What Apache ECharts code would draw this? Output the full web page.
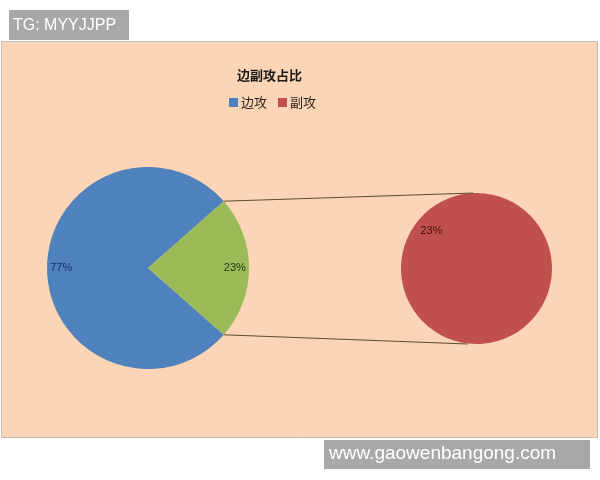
<!DOCTYPE html>
<html>
<head>
<meta charset="utf-8">
<title>边副攻占比</title>
<script src="https://cdn.jsdelivr.net/npm/echarts@6/dist/echarts.min.js"></script>
<style>
    html, body { margin: 0; padding: 0; background: #fff; }
    #chart { width: 600px; height: 480px; }
</style>
</head>
<body>
<div id="chart"></div>
<script>
// 数据
var legendNames = ['边攻', '副攻'];
var mainNames = ['边攻', '其他'];
var mainValues = [77, 23];
var subNames = ['副攻'];
var subValues = [23];

var mainColors = ['#4f81bd', '#9bbb59'];
var subColors = ['#c0504d'];
var labelColors = ['#13305e', '#26380c'];

// 饼图位置
var mainCenter = [148, 268], mainR = 101;
var subCenter = [476.5, 268.5], subR = 75.5;

var total = mainValues[0] + mainValues[1];
var otherAngle = mainValues[1] / total * 360;
var mainStart = 360 - otherAngle / 2;

// 每块扇区的中线角度(顺时针)
function midAngles(values, start) {
    var sum = 0, res = [], acc = start;
    for (var i = 0; i < values.length; i++) sum += values[i];
    for (var j = 0; j < values.length; j++) {
        var a = values[j] / sum * 360;
        res.push(acc - a / 2);
        acc -= a;
    }
    return res;
}
var mainMid = midAngles(mainValues, mainStart);
var subStart = 320;
var subMid = midAngles(subValues, subStart);

// inside 标签默认在半径一半处，往外推
function pushOut(mid, r, frac) {
    var rad = mid * Math.PI / 180;
    var d = (frac - 0.5) * r;
    return { dx: Math.cos(rad) * d, dy: -Math.sin(rad) * d };
}

var mainData = mainValues.map(function (v, i) {
    return {
        name: mainNames[i], value: v,
        itemStyle: { color: mainColors[i] },
        label: { color: labelColors[i] }
    };
});
var subData = subValues.map(function (v, i) {
    return { name: subNames[i], value: v, itemStyle: { color: subColors[i] } };
});

// 连接线
var rad = otherAngle / 2 * Math.PI / 180;
var p1 = [mainCenter[0] + Math.cos(rad) * mainR, mainCenter[1] - Math.sin(rad) * mainR];
var p2 = [mainCenter[0] + Math.cos(rad) * mainR, mainCenter[1] + Math.sin(rad) * mainR];
var q1 = [subCenter[0] - 3, subCenter[1] - subR];
var q2 = [subCenter[0] - 9, subCenter[1] + subR];

var chart = echarts.init(document.getElementById('chart'));
chart.setOption({
    backgroundColor: '#ffffff',
    animation: false,
    color: ['#4f81bd', '#c0504d'],
    title: {
        text: '边副攻占比',
        left: 237,
        top: 69,
        padding: 0,
        textStyle: {
            fontFamily: 'Noto Sans CJK SC',
            fontSize: 13,
            fontWeight: 'bold',
            color: '#1a1a1a'
        }
    },
    legend: {
        data: [
            { name: legendNames[0], itemStyle: { color: mainColors[0] } },
            { name: legendNames[1], itemStyle: { color: subColors[0] } }
        ],
        left: 229,
        top: 96,
        padding: 0,
        icon: 'rect',
        itemWidth: 9,
        itemHeight: 9,
        itemGap: 11,
        selectedMode: false,
        textStyle: {
            fontFamily: 'Noto Sans CJK SC',
            fontSize: 13,
            color: '#2e2620',
            padding: [0, 0, 0, -2]
        }
    },
    graphic: [
        {
            type: 'rect', z: -10,
            shape: { x: 1.5, y: 41.5, width: 596, height: 396 },
            style: { fill: '#fbd5b5', stroke: '#c4bcb4', lineWidth: 1 }
        },
        {
            type: 'line', z: 10,
            shape: { x1: p1[0], y1: p1[1], x2: q1[0], y2: q1[1] },
            style: { stroke: '#5e4d34', lineWidth: 1 }
        },
        {
            type: 'line', z: 10,
            shape: { x1: p2[0], y1: p2[1], x2: q2[0], y2: q2[1] },
            style: { stroke: '#5e4d34', lineWidth: 1 }
        },
        {
            type: 'rect', z: 20,
            shape: { x: 9, y: 10, width: 120, height: 30 },
            style: { fill: '#a8a8a8' }
        },
        {
            type: 'text', z: 21, x: 13, y: 26,
            style: {
                text: 'TG: MYYJJPP', fill: '#fff',
                font: '16px "Liberation Sans", Arial, sans-serif',
                verticalAlign: 'middle'
            }
        },
        {
            type: 'rect', z: 20,
            shape: { x: 324, y: 440, width: 266, height: 29 },
            style: { fill: '#a8a8a8' }
        },
        {
            type: 'text', z: 21, x: 329, y: 454,
            style: {
                text: 'www.gaowenbangong.com', fill: '#fff',
                font: '19px "Liberation Sans", Arial, sans-serif',
                verticalAlign: 'middle'
            }
        }
    ],
    series: [
        {
            name: '边副攻占比',
            type: 'pie',
            center: mainCenter,
            radius: mainR,
            startAngle: mainStart,
            clockwise: true,
            silent: true,
            data: mainData,
            label: {
                position: 'inside',
                formatter: '{d}%',
                fontFamily: 'Liberation Sans',
                fontSize: 11
            },
            labelLayout: function (params) {
                return pushOut(mainMid[params.dataIndex], mainR, 0.83);
            },
            itemStyle: { borderWidth: 0 }
        },
        {
            name: '副攻',
            type: 'pie',
            center: subCenter,
            radius: subR,
            startAngle: subStart,
            clockwise: true,
            silent: true,
            data: subData,
            label: {
                position: 'inside',
                formatter: function (p) { return subValues[p.dataIndex] + '%'; },
                fontFamily: 'Liberation Sans',
                fontSize: 11,
                color: '#4a0d0d'
            },
            labelLayout: function (params) {
                return pushOut(subMid[params.dataIndex], subR, 0.74);
            },
            itemStyle: { borderWidth: 0 }
        }
    ]
});
</script>
</body>
</html>
